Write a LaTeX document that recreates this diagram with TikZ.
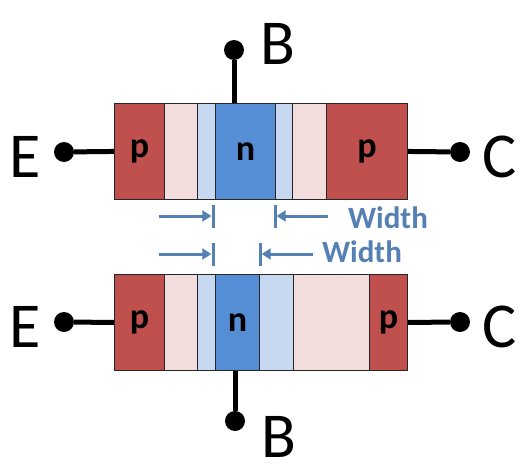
\documentclass[tikz,border=0pt]{standalone}
\usepackage{fontspec}
\setmainfont{Carlito}
\usetikzlibrary{arrows.meta,positioning}
\definecolor{pdeep}{RGB}{192,80,77}
\definecolor{ppale}{RGB}{242,220,220}
\definecolor{ndeep}{RGB}{85,142,213}
\definecolor{npale}{RGB}{198,217,240}
\definecolor{steel}{RGB}{84,128,180}
\tikzset{
  region/.style={draw=black!85, line width=0.9pt, anchor=north west, inner sep=0pt,
    minimum height=96pt, font=\bfseries\fontsize{36}{36}\selectfont},
  term/.style={circle, fill=black, inner sep=0pt, minimum size=20pt},
  termlabel/.style={font=\fontsize{64}{64}\selectfont, inner sep=0pt},
  lead/.style={line width=5pt},
  tick/.style={fill=steel, inner sep=0pt, minimum width=3pt, minimum height=23pt},
  wid/.style={steel, line width=3pt, -{Triangle[length=9pt,width=11pt]}},
  widlabel/.style={steel, font=\bfseries\fontsize{31}{31}\selectfont, inner sep=0pt}
}
\begin{document}
\begin{tikzpicture}[x=1pt, y=-1pt]
  \useasboundingbox (0,0) rectangle (528,474);
  % upper transistor
  \foreach \xl/\w/\c/\t [count=\i] in {114/50/pdeep/p, 164/33/ppale/{}, 197/18/npale/{},
      215/60/ndeep/n, 275/17/npale/{}, 292/34/ppale/{}, 326/81/pdeep/p} {
    \node[region, fill=\c, minimum width=\w pt] (t\i) at (\xl,103) {\t};
  }
  % lower transistor
  \foreach \xl/\w/\c/\t [count=\i] in {114/50/pdeep/p, 164/33/ppale/{}, 197/18/npale/{},
      215/44/ndeep/n, 259/34/npale/{}, 293/76/ppale/{}, 369/38/pdeep/p} {
    \node[region, fill=\c, minimum width=\w pt] (b\i) at (\xl,274) {\t};
  }
  % terminals
  \node[term] (tE) at (64,152) {};
  \node[term] (tC) at (460,152) {};
  \node[term] (tB) at (234,50) {};
  \node[term] (bE) at (64,322) {};
  \node[term] (bC) at (460,322) {};
  \node[term] (bB) at (235,421) {};
  \node[termlabel] (tElab) at (25,157) {E};
  \node[termlabel] (tClab) at (500,157) {C};
  \node[termlabel] (tBlab) at (278,44) {B};
  \node[termlabel] (bElab) at (25,327) {E};
  \node[termlabel] (bClab) at (500,327) {C};
  \node[termlabel] (bBlab) at (279,437) {B};
  \draw[lead] (tE) -- (t1.west);
  \draw[lead] (tC) -- (t7.east);
  \draw[lead] (tB) -- (tB |- t4.north);
  \draw[lead] (bE) -- (b1.west);
  \draw[lead] (bC) -- (b7.east);
  \draw[lead] (bB) -- (bB |- b4.south);
  % base widths
  \node[tick] (k1) at (213,216) {};
  \node[tick] (k2) at (275,216) {};
  \node[tick] (k3) at (213,254) {};
  \node[tick] (k4) at (260,254) {};
  \coordinate (a1) at (159,216);
  \coordinate (a2) at (328,216);
  \coordinate (a3) at (159,254);
  \coordinate (a4) at (313,254);
  \draw[wid] (a1) -- (k1.west);
  \draw[wid] (a2) -- (k2.east);
  \draw[wid] (a3) -- (k3.west);
  \draw[wid] (a4) -- (k4.east);
  \node[widlabel] (w1) at (388,218) {Width};
  \node[widlabel] (w2) at (362,252) {Width};
\end{tikzpicture}
\end{document}
